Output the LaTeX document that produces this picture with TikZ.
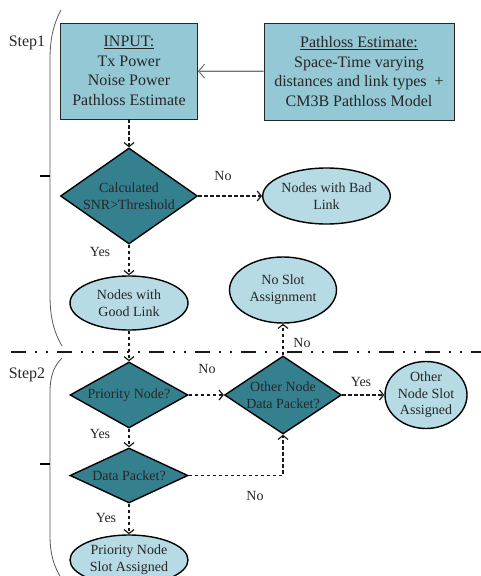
\documentclass[tikz,border=0pt]{standalone}
\usepackage{fontspec}
\setmainfont{Liberation Serif}
\usetikzlibrary{shapes.geometric,arrows.meta}
\definecolor{boxblue}{HTML}{93C8D4}
\definecolor{decteal}{HTML}{35808F}
\definecolor{ovalblue}{HTML}{B6DBE5}
\definecolor{inkgray}{HTML}{262626}
\begin{document}
\begin{tikzpicture}[x=1pt,y=-1pt,
  inbox/.style={rectangle,draw=black!85,line width=0.9pt,fill=boxblue,text=inkgray,
    align=center,inner sep=0pt,font=\fontsize{16}{19.5}\selectfont},
  decision/.style={diamond,draw=black,line width=1.4pt,fill=decteal,text=inkgray,
    align=center,inner sep=0pt,font=\fontsize{14}{17}\selectfont},
  oval/.style={ellipse,draw=black,line width=1.4pt,fill=ovalblue,text=inkgray,
    align=center,inner sep=0pt,font=\fontsize{14}{17}\selectfont},
  flow/.style={draw=black!90,line width=1.8pt,dash pattern=on 3.5pt off 2.5pt,
    -{Straight Barb[length=4pt,width=10pt,line width=1.2pt]}},
  feed/.style={draw=black!55,line width=1.2pt,
    -{Straight Barb[length=6pt,width=14pt,line width=1pt]}},
  lbl/.style={text=inkgray,font=\fontsize{14}{17}\selectfont},
  steplbl/.style={text=inkgray,font=\fontsize{16}{19}\selectfont},
  brace/.style={draw=black!65,line width=0.8pt},
  tick/.style={draw=black,line width=1.2pt},
]
\useasboundingbox (0,0) rectangle (481,576);

% step brackets and separator
\draw[brace] (61,10) .. controls (53,25) and (50,40) .. (50,60) -- (50,295)
  .. controls (50,318) and (54,332) .. (62,346);
\draw[tick] (40,176) -- (50,176);
\node[steplbl] (step1) at (27,43) {Step1};
\draw[brace] (62,358) .. controls (54,366) and (50,376) .. (50,392) -- (50,535)
  .. controls (50,555) and (54,566) .. (61,578);
\draw[tick] (40,464) -- (50,464);
\node[steplbl] (step2) at (27,375) {Step2};
\coordinate (sepl) at (11,352);
\coordinate (sepr) at (481,352);
\draw[black!90,line width=1.8pt,
  dash pattern=on 15pt off 9pt on 2pt off 9pt on 2pt off 9pt] (sepl) -- (sepr);

% step 1
\node[inbox,minimum width=137,minimum height=96] (input) at (129,71)
  {\underline{INPUT:}\\Tx Power\\Noise Power\\Pathloss Estimate};
\node[inbox,minimum width=190,minimum height=97] (pathloss) at (359,71.5)
  {\underline{Pathloss Estimate:}\\Space-Time varying\\distances and link types\ \ +\\CM3B Pathloss Model};
\node[decision,aspect=1.43,minimum width=137,minimum height=96] (snr) at (129,196)
  {Calculated\\SNR>Threshold};
\node[oval,minimum width=119,minimum height=56] (bad) at (326.5,196)
  {Nodes with Bad\\Link};
\node[oval,minimum width=118,minimum height=54] (good) at (129,303)
  {Nodes with\\Good Link};
\node[oval,minimum width=107,minimum height=66] (noslot) at (283,290)
  {No Slot\\Assignment};

% step 2
\node[decision,aspect=1.79,minimum width=118,minimum height=66] (prio) at (129,395)
  {Priority Node?};
\node[decision,aspect=1.5,minimum width=117,minimum height=78] (other) at (283,395)
  {Other Node\\Data Packet?};
\node[oval,minimum width=82,minimum height=67,font=\fontsize{14}{16.5}\selectfont]
  (otherslot) at (426,395) {Other\\Node Slot\\Assigned};
\node[decision,aspect=2.15,minimum width=118,minimum height=55] (data) at (129,475.5)
  {Data Packet?};
\node[oval,minimum width=118,minimum height=50] (prioslot) at (129,560)
  {Priority Node\\Slot Assigned};

% connectors
\draw[feed] (pathloss) -- (input);
\draw[flow] (input) -- (snr);
\draw[flow] (snr) -- (bad);
\draw[flow] (snr) -- (good);
\draw[flow] (good) -- (prio);
\draw[flow] (prio) -- (other);
\draw[flow] (other) -- (noslot);
\draw[flow] (other) -- (otherslot);
\draw[flow] (prio) -- (data);
\draw[flow] (data.east) -| (other.south);
\draw[flow] (data) -- (prioslot);

% branch labels
\node[lbl] (nobad) at (223,176) {No};
\node[lbl] (yesgood) at (100,252) {Yes};
\node[lbl] (noprio) at (207,369) {No};
\node[lbl] (noother) at (302,343) {No};
\node[lbl] (yesother) at (361,382) {Yes};
\node[lbl] (yesprio) at (100,434) {Yes};
\node[lbl] (nodata) at (255,496) {No};
\node[lbl] (yesdata) at (106,518) {Yes};
\end{tikzpicture}
\end{document}
